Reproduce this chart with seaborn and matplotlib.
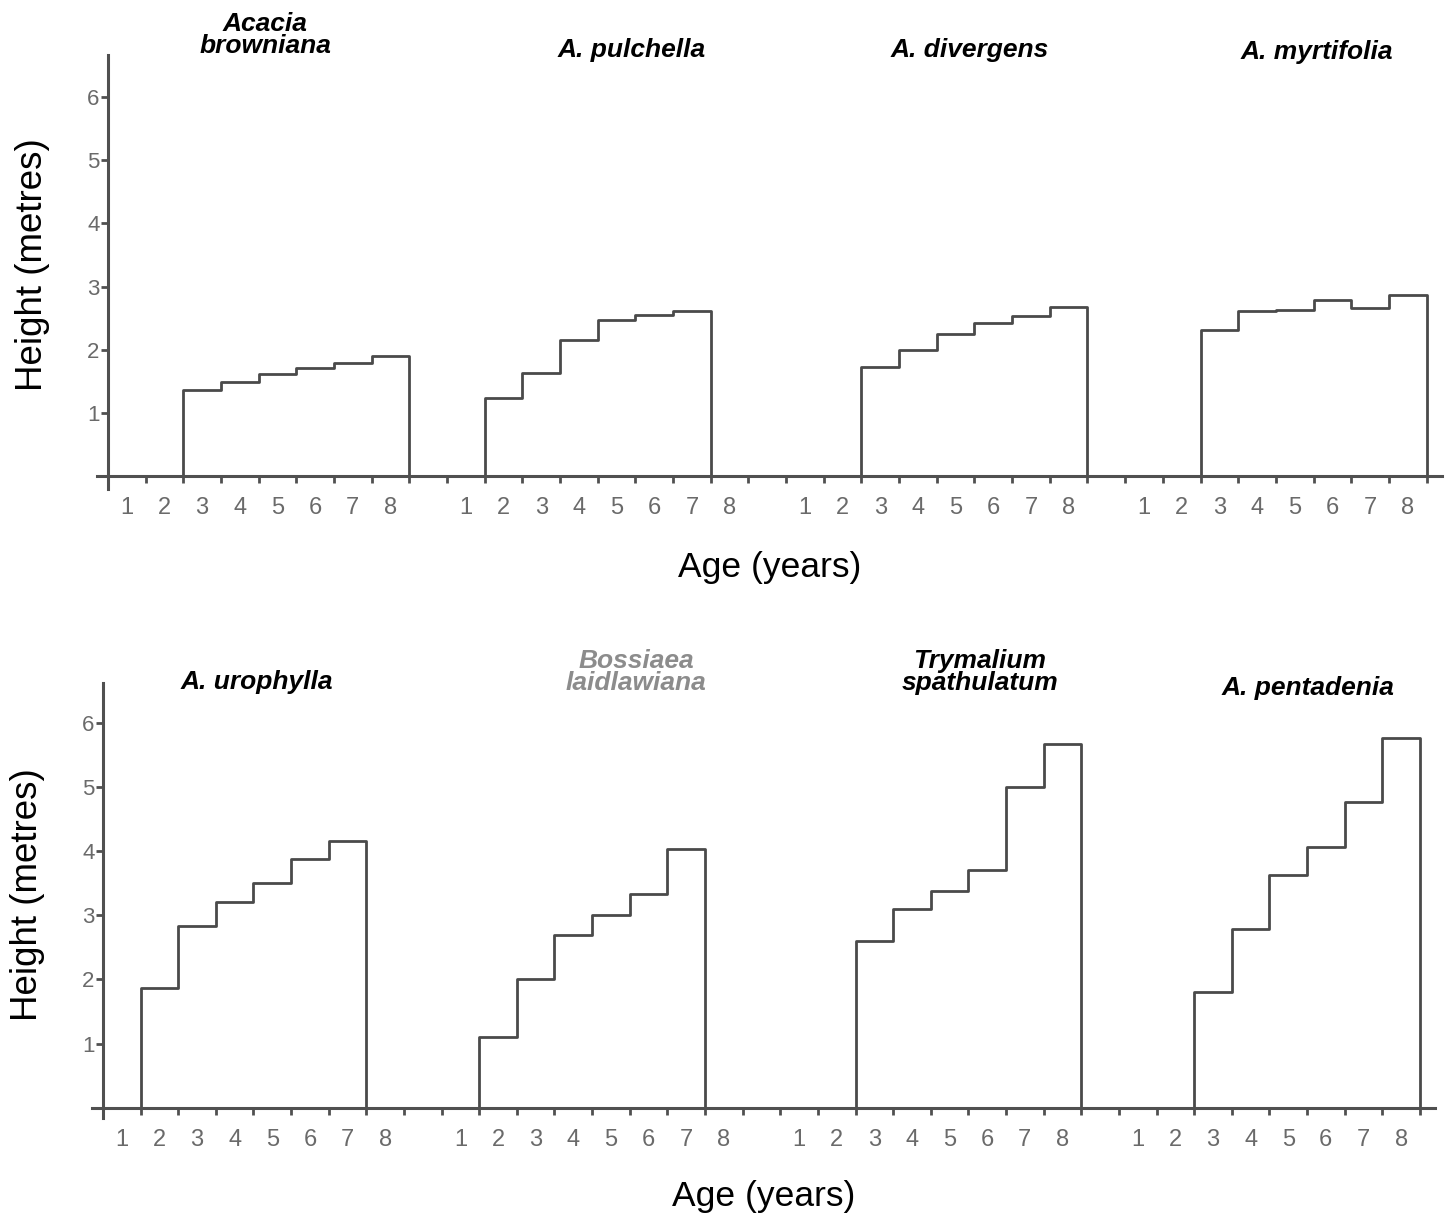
import numpy as np
import pandas as pd
import matplotlib
matplotlib.use("Agg")
import matplotlib.pyplot as plt
from matplotlib.ticker import FixedLocator, FixedFormatter, NullFormatter
import seaborn as sns

# ---------------- data ----------------
age_labels = [1, 2, 3, 4, 5, 6, 7, 8]
y_ticks = [1, 2, 3, 4, 5, 6]

top_species = ["Acacia\nbrowniana", "A. pulchella", "A. divergens", "A. myrtifolia"]
top_ages = [
    [3, 4, 5, 6, 7, 8],
    [2, 3, 4, 5, 6, 7],
    [3, 4, 5, 6, 7, 8],
    [3, 4, 5, 6, 7, 8],
]
top_heights = [
    [1.36, 1.49, 1.61, 1.71, 1.79, 1.91],
    [1.24, 1.63, 2.16, 2.47, 2.55, 2.61],
    [1.73, 1.99, 2.25, 2.43, 2.53, 2.68],
    [2.32, 2.62, 2.63, 2.79, 2.66, 2.86],
]

bottom_species = ["A. urophylla", "Bossiaea\nlaidlawiana", "Trymalium\nspathulatum", "A. pentadenia"]
bottom_ages = [
    [2, 3, 4, 5, 6, 7],
    [2, 3, 4, 5, 6, 7],
    [3, 4, 5, 6, 7, 8],
    [3, 4, 5, 6, 7, 8],
]
bottom_heights = [
    [1.87, 2.84, 3.21, 3.51, 3.88, 4.15],
    [1.10, 2.00, 2.70, 3.00, 3.33, 4.03],
    [2.60, 3.10, 3.38, 3.71, 5.00, 5.67],
    [1.80, 2.78, 3.63, 4.07, 4.76, 5.77],
]

x_label = "Age (years)"
y_label = "Height (metres)"

# ---------------- layout / style ----------------
W, H = 1448, 1216
GROUP_STRIDE = 9          # 8 age bins + 1 gap bin
AX_COL = "#505050"
BAR_COL = "#4a4a4a"
TICK_COL = "#6a6a6a"

sns.set_theme(style="white")
plt.rcParams["font.family"] = ["Liberation Sans", "DejaVu Sans"]

fig = plt.figure(figsize=(W / 100, H / 100), dpi=100)
fig.patch.set_facecolor("white")


def px_rect(left, right, top, bottom):
    return [left / W, 1 - bottom / H, (right - left) / W, (bottom - top) / H]


def setup_axis(ax, xlim, ylim):
    ax.set_xlim(*xlim)
    ax.set_ylim(*ylim)
    for s in ["top", "right"]:
        ax.spines[s].set_visible(False)
    ax.spines["left"].set_position(("data", 0))
    ax.spines["bottom"].set_position(("data", 0))
    for s in ["left", "bottom"]:
        ax.spines[s].set_color(AX_COL)
        ax.spines[s].set_linewidth(2.2)
    n_groups = 4
    major = list(range(0, GROUP_STRIDE * (n_groups - 1) + len(age_labels) + 1))
    centers, labels = [], []
    for g in range(n_groups):
        for a in age_labels:
            centers.append(g * GROUP_STRIDE + a - 0.5)
            labels.append(str(a))
    ax.xaxis.set_major_locator(FixedLocator(major))
    ax.xaxis.set_major_formatter(NullFormatter())
    ax.xaxis.set_minor_locator(FixedLocator(centers))
    ax.xaxis.set_minor_formatter(FixedFormatter(labels))
    ax.tick_params(axis="x", which="major", direction="out", length=5, width=2,
                   color=AX_COL, bottom=True)
    ax.tick_params(axis="x", which="minor", length=0, pad=15, labelsize=17,
                   labelcolor=TICK_COL, bottom=True)
    ax.set_yticks(y_ticks)
    ax.set_yticklabels([str(v) for v in y_ticks])
    ax.tick_params(axis="y", which="major", direction="out", length=5, width=2,
                   color=AX_COL, pad=1, labelsize=16, labelcolor=TICK_COL, left=True)
    ax.grid(False)
    ax.set_facecolor("none")


def draw_row(ax, ages_list, heights_list):
    for g, (ages, hts) in enumerate(zip(ages_list, heights_list)):
        offset = g * GROUP_STRIDE
        df = pd.DataFrame({
            "pos": [offset + a - 0.5 for a in ages],
            "height": hts,
        })
        edges = [float(e) for e in range(offset + min(ages) - 1, offset + max(ages) + 1)]
        sns.histplot(data=df, x="pos", weights="height", bins=edges,
                     element="step", fill=True, facecolor="white",
                     edgecolor=BAR_COL, linewidth=2.0, alpha=1.0, ax=ax)


# ---- top row ----
ax1 = fig.add_axes(px_rect(97, 1442, 55, 489))
draw_row(ax1, top_ages, top_heights)
setup_axis(ax1, (-0.29, 35.41), (-0.2, 6.66))

# ---- bottom row ----
ax2 = fig.add_axes(px_rect(92, 1435, 683, 1118))
draw_row(ax2, bottom_ages, bottom_heights)
setup_axis(ax2, (-0.29, 35.4), (-0.16, 6.62))

for ax, ycen in [(ax1, 0.516), (ax2, 0.513)]:
    ax.set_xlabel(x_label, fontsize=25.5, color="black")
    ax.xaxis.set_label_coords(0.5, -0.18)
    ax.xaxis.label.set_verticalalignment("center")
    ax.set_ylabel(y_label, fontsize=26.5, color="black")
    ax.yaxis.set_label_coords(-0.048, ycen)
    ax.yaxis.label.set_verticalalignment("center")

# ---- species titles ----
title_pos_top = [(265, 35), (632, 50), (970, 50), (1317, 52)]
title_pos_bottom = [(257, 682), (636, 672), (980, 672), (1308, 688)]
title_colors_bottom = ["black", "#8c8c8c", "black", "black"]

for name, (x, y) in zip(top_species, title_pos_top):
    fig.text(x / W, 1 - y / H, name, ha="center", va="center", fontsize=19,
             fontweight="bold", fontstyle="italic", color="black", linespacing=0.9)
for name, (x, y), c in zip(bottom_species, title_pos_bottom, title_colors_bottom):
    fig.text(x / W, 1 - y / H, name, ha="center", va="center", fontsize=19,
             fontweight="bold", fontstyle="italic", color=c, linespacing=0.9)

fig.savefig("out.png", dpi=100, facecolor="white")
